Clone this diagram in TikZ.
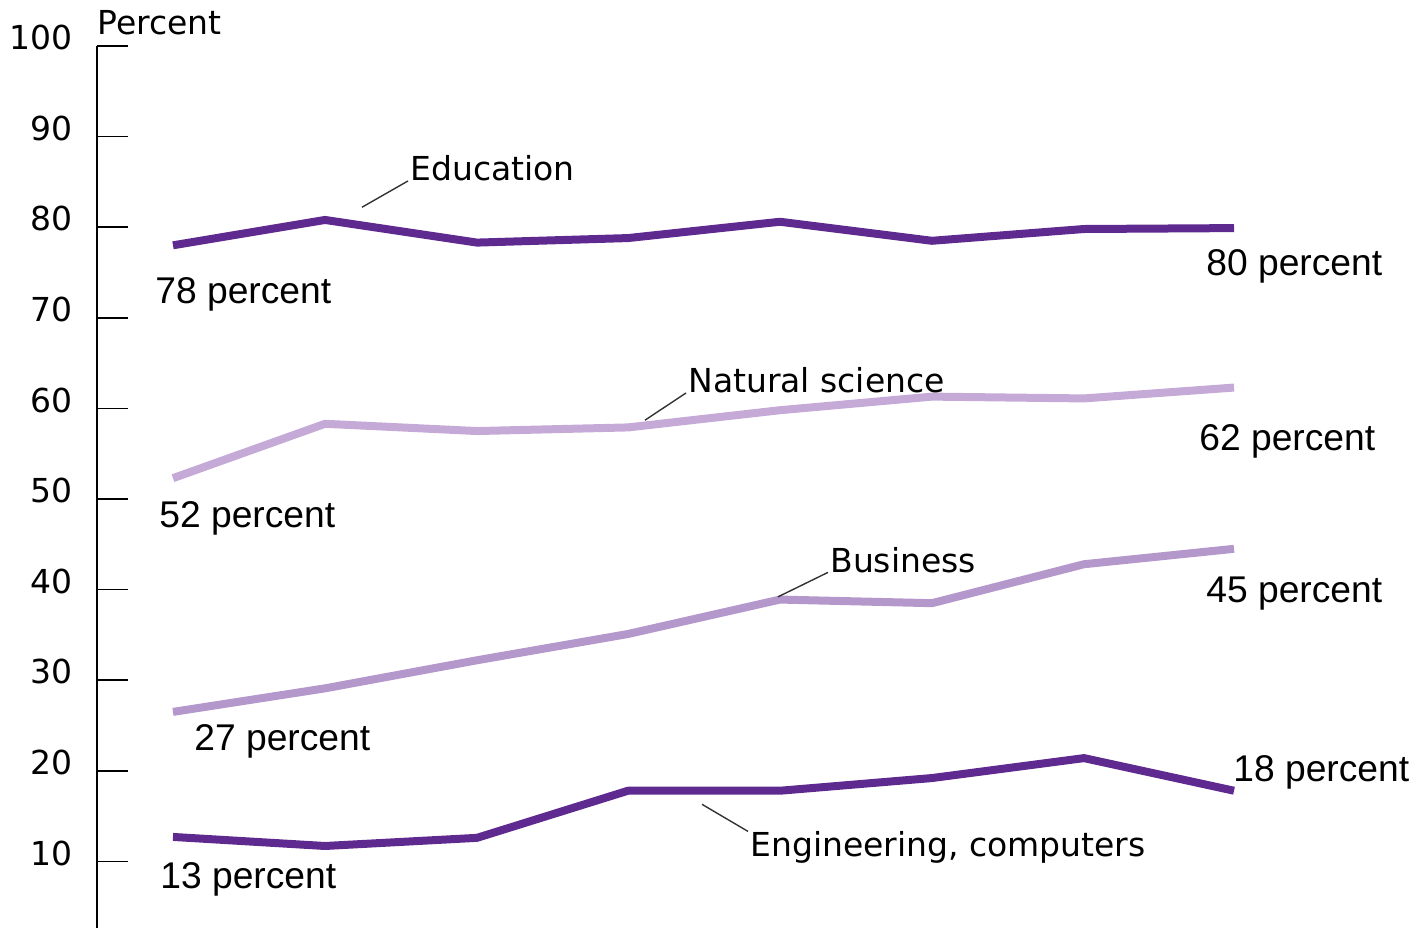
\documentclass[tikz,border=0pt]{standalone}
\usepackage{fontspec}
\setmainfont{DejaVu Sans}
\newfontfamily\arialfont{Liberation Sans}
\usetikzlibrary{positioning}
\definecolor{darkpurple}{HTML}{5F2A8F}
\definecolor{lightpurple}{HTML}{C5AAD7}
\definecolor{midpurple}{HTML}{B598CB}

\begin{document}
\begin{tikzpicture}[x=0.5pt,y=0.5pt,
  series/.style={line width=4pt, line join=round},
  cat/.style={font=\fontsize{16.5}{20}\selectfont, inner sep=0pt, anchor=base west},
  pct/.style={font=\arialfont\fontsize{18.6}{22}\selectfont, inner sep=0pt, anchor=base west},
  leader/.style={line width=0.7pt, black!80}]
\useasboundingbox (0,0) rectangle (1420,928);
\begin{scope}[yshift=-12pt, y=4.53pt]
\draw[line width=1pt] (97,100) -- (97,2.6);
\foreach \v in {10,20,...,100} {
  \draw[line width=0.8pt] (97,\v) -- (128,\v);
  \node[cat, anchor=base east] at (73,\v-0.4) {\v};
}
\node[cat] (percent) at (97,101.3) {Percent};

\draw[series, darkpurple] plot coordinates {(173,78.0) (325,80.8) (477,78.3) (628,78.8) (780,80.6) (932,78.5) (1084,79.8) (1234,79.9)};
\draw[series, lightpurple] plot coordinates {(173,52.3) (325,58.3) (477,57.5) (628,57.9) (780,59.8) (932,61.3) (1084,61.1) (1234,62.3)};
\draw[series, midpurple] plot coordinates {(173,26.5) (325,29.1) (477,32.2) (628,35.1) (780,38.9) (932,38.5) (1084,42.8) (1234,44.5)};
\draw[series, darkpurple] plot coordinates {(173,12.7) (325,11.7) (477,12.6) (628,17.8) (780,17.8) (932,19.2) (1084,21.4) (1234,17.8)};

\node[cat] (edu) at (410,85.2) {Education};
\node[cat] (natsci) at (688,61.7) {Natural science};
\node[cat] (bus) at (830,41.9) {Business};
\node[cat] (eng) at (750,10.5) {Engineering, computers};
\coordinate (edu-tip) at (362,82.2);
\coordinate (natsci-tip) at (645,58.7);
\coordinate (bus-tip) at (778,39.2);
\coordinate (eng-tip) at (702,16.3);
\draw[leader] (edu-tip) -- ([xshift=-1pt]edu.south west);
\draw[leader] (natsci-tip) -- ([xshift=-1pt]natsci.base west);
\draw[leader] (bus-tip) -- ([xshift=-1pt]bus.base west);
\draw[leader] (eng-tip) -- ([xshift=-1pt]eng.north west);

\node[pct] (edu-start) at (155,71.6) {78 percent};
\node[pct] (edu-end) at (1206,74.7) {80 percent};
\node[pct] (natsci-start) at (159,46.9) {52 percent};
\node[pct] (natsci-end) at (1199,55.3) {62 percent};
\node[pct] (bus-start) at (194,22.2) {27 percent};
\node[pct] (bus-end) at (1206,38.6) {45 percent};
\node[pct] (eng-start) at (160,7.0) {13 percent};
\node[pct] (eng-end) at (1233,18.8) {18 percent};
\end{scope}
\end{tikzpicture}
\end{document}
